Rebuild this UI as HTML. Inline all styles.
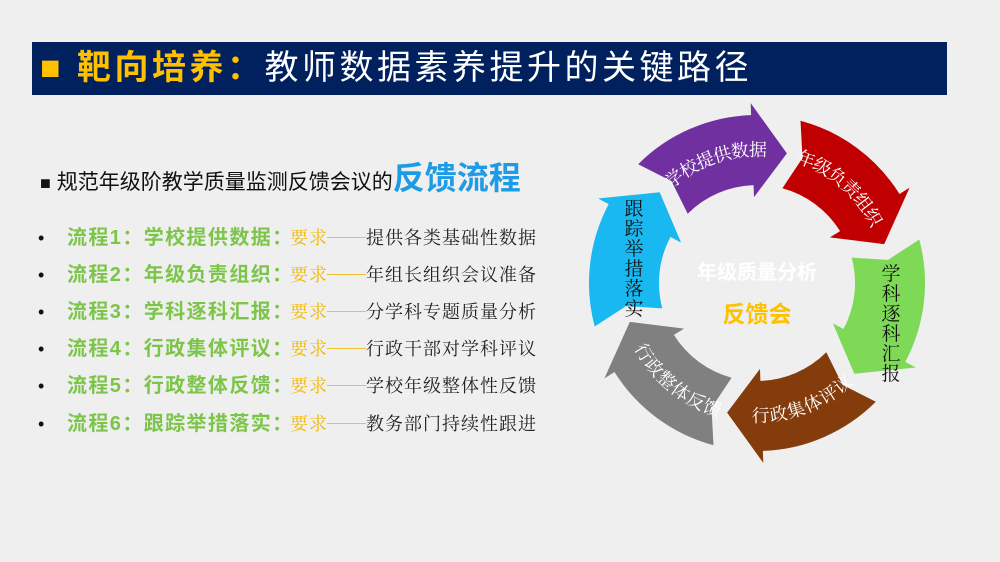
<!DOCTYPE html>
<html><head><meta charset="utf-8"><style>
body{margin:0;width:1000px;height:562px;background:#efefef;overflow:hidden;position:relative;font-family:"Liberation Sans","Noto Sans CJK SC",sans-serif}
.bar{position:absolute;left:32px;top:42px;width:915px;height:53px;background:#00205e}
.title{position:absolute;left:40px;top:42px;height:53px;line-height:53px;font-size:34px;color:#fff;letter-spacing:3.5px;white-space:nowrap}
.title .y{color:#ffc000;font-weight:bold}
.sub{position:absolute;left:40px;top:156px;font-size:21px;color:#111;white-space:nowrap;line-height:44px}
.sub .q{font-size:18px}
.sub b{color:#1e9be6;font-size:32px;font-weight:bold}
.r{position:absolute;white-space:nowrap;height:30px;line-height:30px}
.d{left:38px;font-size:18px;color:#111}
.g{left:67px;font-size:20px;color:#7cc54a;font-weight:bold;letter-spacing:1.4px}
.o{left:290px;color:#f2b800;font-size:18px;font-family:"Liberation Serif","Noto Serif CJK SC",serif;letter-spacing:1px}
.l{position:absolute;left:327px;width:39px;height:0;border-top:1.5px solid #f2c030}
.s{left:366px;color:#222;font-size:18px;font-family:"Liberation Serif","Noto Serif CJK SC",serif;letter-spacing:1px}
</style></head><body>
<div class="bar"></div>
<div class="title"><span class="y">■ 靶向培养：</span>教师数据素养提升的关键路径</div>
<div class="sub"><span class="q">■</span> 规范年级阶教学质量监测反馈会议的<b>反馈流程</b></div>
<div id="rows"></div>
<svg id="cyc" width="1000" height="562" style="position:absolute;left:0;top:0" xmlns="http://www.w3.org/2000/svg"></svg>
<script>
(function(){
var G=['流程1：学校提供数据：','流程2：年级负责组织：','流程3：学科逐科汇报：','流程4：行政集体评议：','流程5：行政整体反馈：','流程6：跟踪举措落实：'];
var S=['提供各类基础性数据','年组长组织会议准备','分学科专题质量分析','行政干部对学科评议','学校年级整体性反馈','教务部门持续性跟进'];
var T=[238,275,312,349,386,424],o='';
for(var i=0;i<6;i++){var t=T[i]-15;
o+='<div class="r d" style="top:'+t+'px">•</div><div class="r g" style="top:'+t+'px">'+G[i]+'</div><div class="r o" style="top:'+t+'px">要求</div><div class="l" style="top:'+(T[i]-1)+'px"></div><div class="r s" style="top:'+t+'px">'+S[i]+'</div>';}
document.getElementById('rows').innerHTML=o;
var s=document.getElementById('cyc'),cx=757,cy=283,rI=98,rO=168,hI=86,hO=180,rM=133;
function P(a,r){a=a*Math.PI/180;return (cx+r*Math.sin(a)).toFixed(1)+' '+(cy-r*Math.cos(a)).toFixed(1);}
var cols=['#7030a0','#c00000','#7ed957','#843c0c','#808080','#1ab8f0'];
var labels=['学校提供数据','年级负责组织','学科逐科汇报','行政集体评议','行政整体反馈','跟踪举措落实'];
var h='<defs>';
for(var i=0;i<6;i++){var a0=-45+60*i,b0=a0+2,b1=a0+50;
 if(i==3||i==4)h+='<path id="t'+i+'" d="M'+P(b1-2,rM)+' A'+rM+' '+rM+' 0 0 0 '+P(b0-2,rM)+'"/>';
 else h+='<path id="t'+i+'" d="M'+P(b0,rM)+' A'+rM+' '+rM+' 0 0 1 '+P(b1,rM)+'"/>';}
h+='</defs>';
for(var i=0;i<6;i++){var a0=-45+60*i,a1=a0+43,a2=a0+58;
 h+='<path fill="'+cols[i]+'" d="M'+P(a0,rO)+' A'+rO+' '+rO+' 0 0 1 '+P(a1,rO)+' L'+P(a1,hO)+' L'+P(a2,rM)+' L'+P(a1,hI)+' L'+P(a1,rI)+' A'+rI+' '+rI+' 0 0 0 '+P(a0,rI)+' L'+P(a0+5,rM)+' Z"/>';
 if(i!=2&&i!=5)h+='<text font-family="Liberation Serif,Noto Serif CJK SC,serif" font-size="18" fill="#fff" dominant-baseline="central" text-anchor="middle"><textPath href="#t'+i+'" startOffset="50%">'+labels[i]+'</textPath></text>';
}
function vert(x,y0,t){var r='';for(var k=0;k<t.length;k++)r+='<text x="'+x+'" y="'+(y0+k*20)+'" font-family="Liberation Serif,Noto Serif CJK SC,serif" font-size="19" fill="#111" text-anchor="middle">'+t[k]+'</text>';return r;}
h+=vert(891,280,labels[2]);h+=vert(634,215,labels[5]);
h+='<text x="757" y="279" font-size="20" font-weight="bold" fill="#fff" text-anchor="middle" font-family="Liberation Sans,Noto Sans CJK SC,sans-serif">年级质量分析</text>';
h+='<text x="757" y="322" font-size="23" font-weight="bold" fill="#ffc000" text-anchor="middle" font-family="Liberation Sans,Noto Sans CJK SC,sans-serif">反馈会</text>';
s.innerHTML=h;})();
</script>
</body></html>
